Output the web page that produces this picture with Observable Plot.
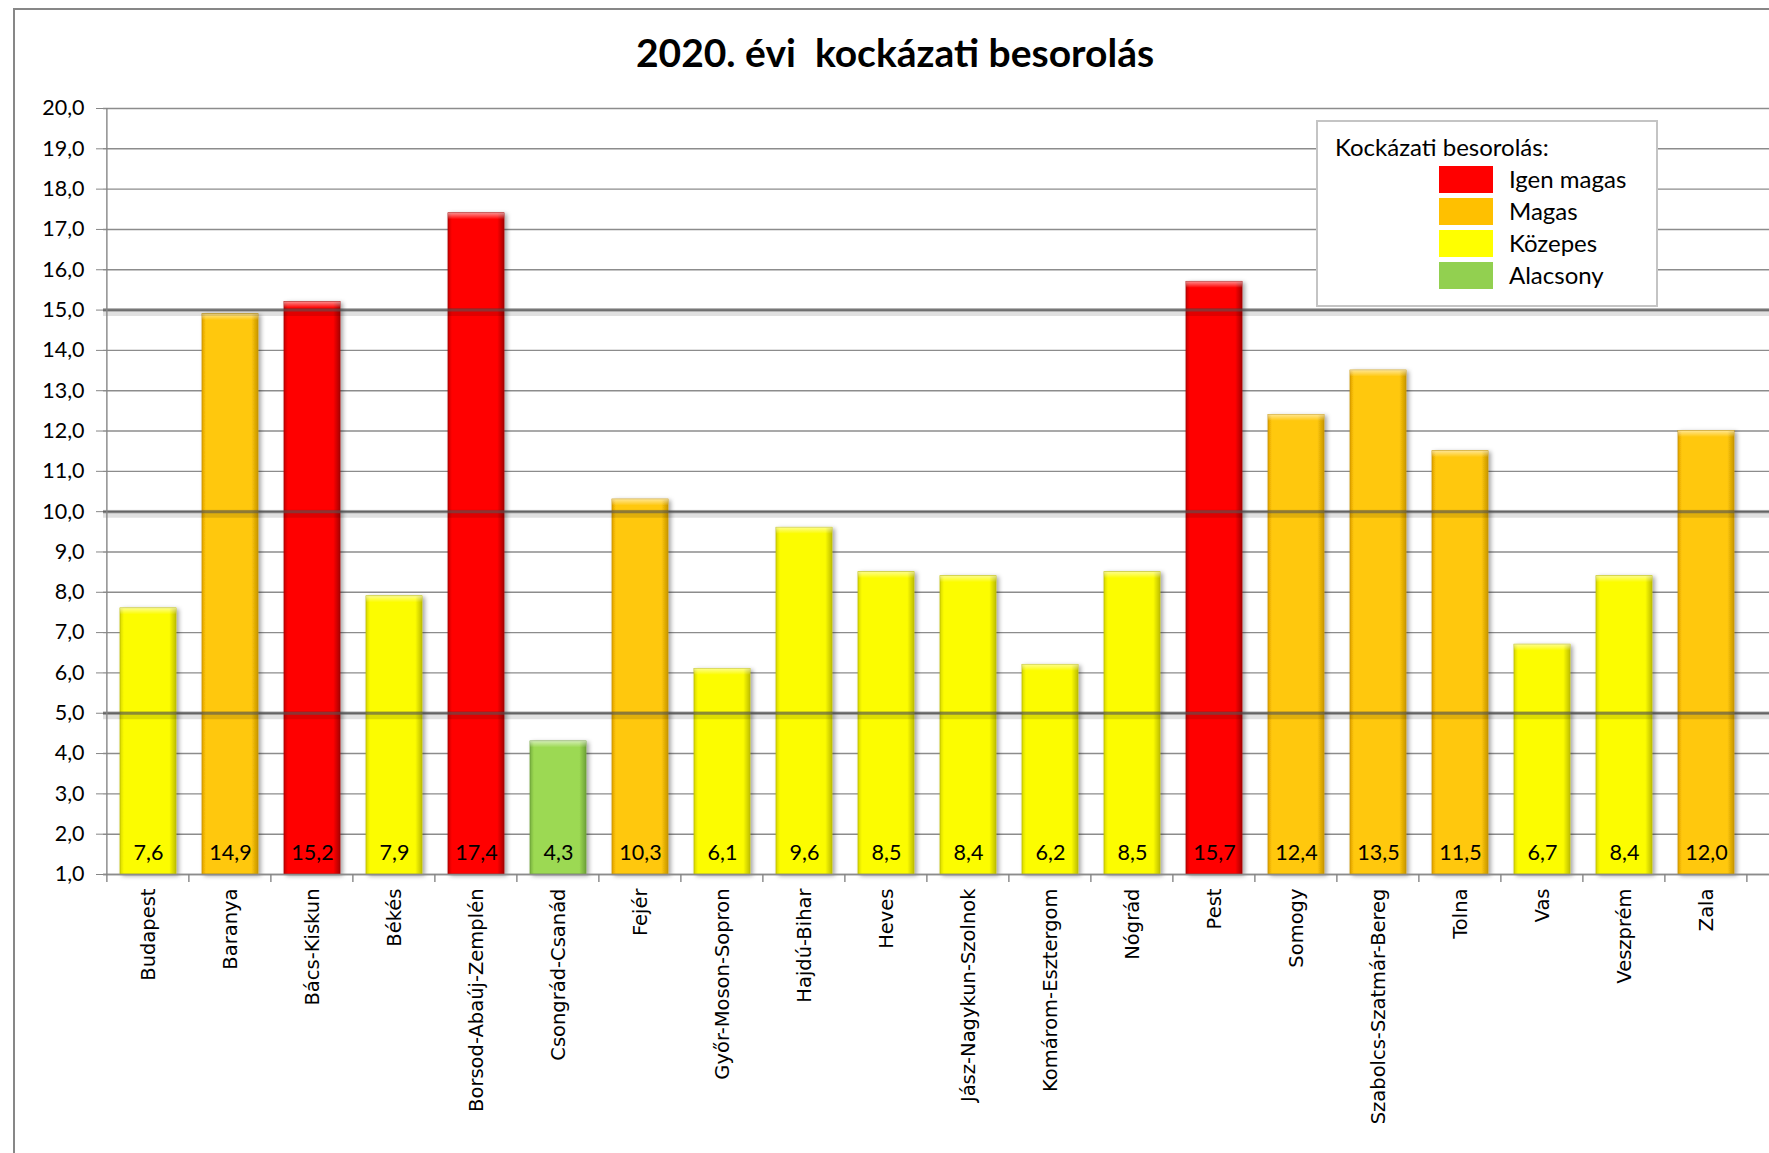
<!DOCTYPE html>
<html><head><meta charset="utf-8">
<script src="https://cdn.jsdelivr.net/npm/d3@7"></script>
<script src="https://cdn.jsdelivr.net/npm/@observablehq/plot@0.6"></script>
<style>
body{margin:0;background:#fff;}
#wrap{position:relative;width:1769px;height:1153px;overflow:hidden;font-family:Lato,"Open Sans",sans-serif;color:#000;}
#frame{position:absolute;left:13px;top:8px;width:1800px;height:1200px;border:2px solid #878787;box-sizing:border-box;}
#title{position:absolute;left:13px;width:1764px;top:28px;text-align:center;font-weight:bold;font-size:39px;white-space:pre;line-height:48px;}
#chart{position:absolute;left:0;top:0;}
#legend{position:absolute;left:1316px;top:120px;width:342px;height:187px;background:#fff;border:2px solid #c4c4c4;box-sizing:border-box;}
#legend .lt{position:absolute;left:17px;top:10px;font-size:24px;line-height:30px;white-space:nowrap;}
#legend .sw{position:absolute;left:121px;width:54px;height:27px;}
#legend .ll{position:absolute;left:191px;font-size:24px;line-height:30px;white-space:nowrap;}
</style></head>
<body>
<div id="wrap">
  <div id="frame"></div>
  <div id="title"></div>
  <div id="chart"></div>
  <div id="legend"></div>
</div>
<script>
// ---- data ----
const titleText = "2020. évi  kockázati besorolás";
const legendTitle = "Kockázati besorolás:";
const counties = ["Budapest","Baranya","Bács-Kiskun","Békés","Borsod-Abaúj-Zemplén","Csongrád-Csanád","Fejér","Győr-Moson-Sopron","Hajdú-Bihar","Heves","Jász-Nagykun-Szolnok","Komárom-Esztergom","Nógrád","Pest","Somogy","Szabolcs-Szatmár-Bereg","Tolna","Vas","Veszprém","Zala"];
const values = [7.6,14.9,15.2,7.9,17.4,4.3,10.3,6.1,9.6,8.5,8.4,6.2,8.5,15.7,12.4,13.5,11.5,6.7,8.4,12.0];
const levels = ["Közepes","Magas","Igen magas","Közepes","Igen magas","Alacsony","Magas","Közepes","Közepes","Közepes","Közepes","Közepes","Közepes","Igen magas","Magas","Magas","Magas","Közepes","Közepes","Magas"];
const levelNames = ["Igen magas","Magas","Közepes","Alacsony"];
const levelColors = ["#FF0000","#FFC000","#FFFF00","#92D050"];
const barColors = [["#C80000","#FF0000","#FF0000","#A80000"],["#E0A000","#FFC80A","#FFC80A","#C89600"],["#D8D800","#FCFC00","#FCFC00","#BEBE00"],["#78B040","#9CD952","#9CD952","#6EA238"]];
const yTicks = [1,2,3,4,5,6,7,8,9,10,11,12,13,14,15,16,17,18,19,20];
const thresholds = [5,10,15];
const yMin = 1, yMax = 20;

const data = counties.map((c,i)=>({county:c, value:values[i], level:levels[i]}));
const fmt = v => v.toFixed(1).replace(".", ",");
const padInner = 0.32;

// ---- title & legend ----
document.getElementById("title").textContent = titleText;
const leg = d3.select("#legend");
leg.append("div").attr("class","lt").text(legendTitle);
levelNames.forEach((n,i)=>{
  leg.append("div").attr("class","sw").style("top",(44+i*32)+"px").style("background",levelColors[i]);
  leg.append("div").attr("class","ll").style("top",(42+i*32)+"px").text(n);
});

// ---- chart ----
const axisMarks = (index, {x, y}) => {
  const g = d3.create("svg:g").attr("stroke","#868686").attr("stroke-width",1.4).attr("fill","none");
  const step = x(counties[1]) - x(counties[0]);
  const off = step*padInner/2;
  const y0 = y(yMin);
  const xs = counties.map(c => x(c) - off);
  xs.push(x(counties[counties.length-1]) + step - off);
  g.append("line").attr("x1",xs[0]).attr("x2",xs[0]).attr("y1",y(yMax)).attr("y2",y0);
  xs.forEach(v => g.append("line").attr("x1",v).attr("x2",v).attr("y1",y0).attr("y2",y0+8));
  return g.node();
};

const svg = Plot.plot({
  width: 1769, height: 1153,
  marginLeft: 103, marginRight: 0, marginTop: 108, marginBottom: 279,
  style: {fontFamily: "Lato, sans-serif", fontSize: "21px", background: "transparent", color: "#000"},
  x: {domain: counties, range: [103, 1751], paddingInner: padInner, paddingOuter: padInner/2},
  y: {domain: [yMin, yMax]},
  marks: [
    Plot.gridY({ticks: yTicks, stroke: "#8c8c8c", strokeOpacity: 1, strokeWidth: 1.4}),
    ...levelNames.map((lv,k)=>Plot.barY(data.filter(d=>d.level===lv), {x:"county", y1: () => yMin, y2:"value", fill:`url(#grad${k})`, stroke: barColors[k][3], strokeWidth: 0.8})),
    Plot.barY(data, {x:"county", y1: d => d.value - 0.16, y2: "value", fill: "url(#bevel)"}),
    Plot.ruleY(thresholds, {stroke: "#000", strokeOpacity: 0.12, strokeWidth: 8, dy: 2}),
    Plot.ruleY(thresholds, {stroke: "#555", strokeOpacity: 0.6, strokeWidth: 3}),
    Plot.ruleY([yMin], {stroke: "#8c8c8c", strokeWidth: 1.4}),
    Plot.text(data, {x:"county", y: () => yMin, dy: -21, text: d => fmt(d.value), fontSize: 21.5, fill: "#000"}),
    Plot.axisY({ticks: yTicks, tickFormat: fmt, tickSize: 7, tickPadding: 12, stroke: "#868686", fill: "#000", fontSize: 21.5, label: null}),
    Plot.axisX({tickRotate: -90, tickSize: 0, tickPadding: 14, fontSize: 19.5, fontFamily: "DejaVu Sans", fill: "#000", label: null}),
    axisMarks
  ]
});

const sel = d3.select(svg);
const defs = sel.insert("defs", ":first-child");
barColors.forEach((c,k)=>{
  const lg = defs.append("linearGradient").attr("id","grad"+k).attr("x1",0).attr("x2",1).attr("y1",0).attr("y2",0);
  [[0,c[0]],[0.07,c[1]],[0.88,c[2]],[1,c[3]]].forEach(([o,col])=>lg.append("stop").attr("offset",o).attr("stop-color",col));
});
const bv = defs.append("linearGradient").attr("id","bevel").attr("x1",0).attr("x2",0).attr("y1",0).attr("y2",1);
bv.append("stop").attr("offset",0).attr("stop-color","#fff").attr("stop-opacity",0.55);
bv.append("stop").attr("offset",1).attr("stop-color","#fff").attr("stop-opacity",0);
const f = defs.append("filter").attr("id","shadow").attr("x","-20%").attr("y","-5%").attr("width","150%").attr("height","115%");
f.append("feDropShadow").attr("dx",2.5).attr("dy",1.5).attr("stdDeviation",2).attr("flood-color","#000").attr("flood-opacity",0.35);
sel.selectAll('g[aria-label="bar"]').filter((d,i)=>i<4).attr("filter","url(#shadow)");

document.getElementById("chart").appendChild(svg);
</script>
</body></html>
